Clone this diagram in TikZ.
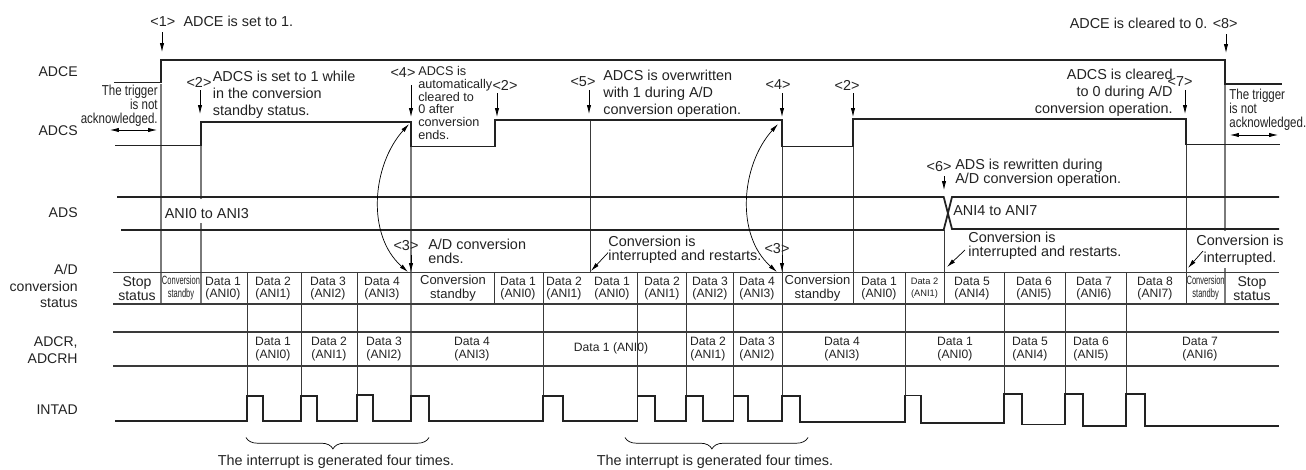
\documentclass[tikz,border=0pt]{standalone}
\usepackage{fontspec}
\setmainfont{Liberation Sans}
\newfontfamily\condfont[FakeStretch=0.8]{Liberation Sans}
\newfontfamily\narrowfont[FakeStretch=0.63]{Liberation Sans}
\usetikzlibrary{arrows.meta,decorations.pathreplacing}
\definecolor{inkdark}{HTML}{222222}
\definecolor{gridgray}{HTML}{7A7A7A}
\definecolor{griddark}{HTML}{3A3A3A}
\tikzset{
  sig/.style={draw=inkdark, line width=1pt, line join=miter},
  rowline/.style={draw=griddark, line width=0.9pt},
  gridl/.style={draw=griddark, line width=0.55pt},
  gridg/.style={draw=gridgray, line width=0.75pt},
  pin/.style={draw=black, line width=0.4pt, -{Latex[length=5pt,width=2.4pt]}},
  pinboth/.style={draw=black, line width=0.4pt, {Latex[length=5pt,width=2.4pt]}-{Latex[length=5pt,width=2.4pt]}},
  note/.style={font=\fontsize{8.2}{9.8}\selectfont, inner sep=0pt, text=inkdark},
  smallnote/.style={font=\fontsize{7.2}{7.3}\selectfont, inner sep=0pt, text=inkdark},
  spacednote/.style={font=\fontsize{8.2}{8}\selectfont, inner sep=0pt, text=inkdark},
  sigpalabel/.style={font=\fontsize{8}{9.5}\selectfont, inner sep=0pt, anchor=east, align=right, text=inkdark},
  cell/.style={font=\fontsize{6.9}{7.2}\selectfont, inner sep=0pt, align=center, text=inkdark},
  cellbig/.style={font=\fontsize{7.4}{7.9}\selectfont, inner sep=0pt, align=center, text=inkdark},
  cellstop/.style={font=\fontsize{8}{8}\selectfont, inner sep=0pt, align=center, text=inkdark},
  cellnarrow/.style={font=\fontsize{6.8}{7.3}\narrowfont, inner sep=0pt, align=center, text=inkdark},
  trignote/.style={font=\fontsize{8.2}{8.1}\condfont, inner sep=0pt, text=inkdark}
}
\begin{document}
\begin{tikzpicture}[x=0.02cm, y=-0.02cm]
\useasboundingbox (0,0) rectangle (1306,470);
% vertical timing lines
\foreach \x/\a/\b in {161/84/304, 201/122/199, 201/223/304, 411/122/396, 1225/84/231, 1225/268/304}
  \draw[gridg] (\x,\a) -- (\x,\b);
\foreach \x/\a/\b in {590/120/272, 782/120/396, 853/119/304, 944/230/304, 1186/119/304,
  247/272/396, 301/272/396, 357/272/396, 494/272/304, 543/272/396, 637.5/272/396, 686/272/396,
  733.5/272/396, 905/272/396, 1004/272/396, 1065/272/396, 1126/272/396}
  \draw[gridl] (\x,\a) -- (\x,\b);
% row lines
\foreach \y in {272.5, 304, 332, 366} \draw[rowline] (113,\y) -- (1279,\y);
\draw[sig] (114,82.5) -| (161,60) -| (1225,83.7) -- (1282,83.7);
\draw[sig] (115,145.5) -| (201,122) -| (411,146.5) -| (495,120) -| (782,146.5) -| (853,119) -| (1186,144.5) -- (1280,144.5);
\draw[sig] (117,197) -- (943.7,197) -- (952,229) -- (1279,229);
\draw[sig] (121,230) -- (943.7,230) -- (952,197) -- (1279,197);
\draw[sig] (115,421) -| (247,396) -| (263,421) -| (301,396) -| (317,421) -| (357,395) -| (373,421) -| (411,396) -| (429,421)
  -| (543,396) -| (563,421) -| (637.5,396) -| (655,421) -| (686,396) -| (703,421) -| (733.5,396) -| (748,421)
  -| (782,396) -| (800,422) -| (905,395.5) -| (921,423) -| (1004,394) -| (1022,424.5) -| (1065,394) -| (1083,426)
  -| (1126,394) -| (1145,426) -- (1279,426);
% row names
\node[sigpalabel] (lADCE) at (78,72) {ADCE};
\node[sigpalabel] (lADCS) at (78,131) {ADCS};
\node[sigpalabel] (lADS) at (78,213) {ADS};
\node[sigpalabel] (lAD) at (78,286) {A/D\\conversion\\status};
\node[sigpalabel] (lADCR) at (78,350) {ADCR,\\ADCRH};
\node[sigpalabel] (lINTAD) at (78,410) {INTAD};
% callouts
\node[note, anchor=west] (n1) at (150,21) {<1>\hspace{0.3em} ADCE is set to 1.};
\node[note, anchor=east] (n8) at (1238,23) {ADCE is cleared to 0. <8>};
\node[note, anchor=center] (n2a) at (199,82) {<2>};
\node[note, anchor=west, align=left] (t2) at (212.5,94.5) {ADCS is set to 1 while\\in the conversion\\standby status.};
\node[note] (n4a) at (403,73) {<4>};
\node[smallnote, anchor=west, align=left] (t4) at (418,103) {ADCS is\\automatically\\cleared to\\0 after\\conversion\\ends.};
\node[note] (n2b) at (505,85) {<2>};
\node[note] (n5) at (583,82) {<5>};
\node[note, anchor=west, align=left] (t5) at (603,93.5) {ADCS is overwritten\\with 1 during A/D\\conversion operation.};
\node[note] (n4b) at (778,85) {<4>};
\node[note] (n2c) at (847,85) {<2>};
\node[note, anchor=east, align=right] (t7) at (1173,92.5) {ADCS is cleared\\to 0 during A/D\\conversion operation.};
\node[note] (n7) at (1180,82) {<7>};
\node[note] (n6) at (939,167) {<6>};
\node[spacednote, anchor=west, align=left] (t6) at (955,173) {ADS is rewritten during\\A/D conversion operation.};
\node[trignote, anchor=east, align=right] (trigl) at (158,106) {The trigger\\is not\\acknowledged.};
\node[trignote, anchor=west, align=left] (trigr) at (1229,110) {The trigger\\is not\\acknowledged.};
\node[note, anchor=west] (ani0) at (164.5,214) {ANI0 to ANI3};
\node[note, anchor=west] (ani4) at (953,211) {ANI4 to ANI7};
\node[note] (n3a) at (406,246) {<3>};
\node[spacednote, anchor=west, align=left] (t3) at (428,251) {A/D conversion\\ends.};
\node[note] (n3b) at (777,249) {<3>};
\node[spacednote, anchor=west, align=left] (r1) at (608,250) {Conversion is\\interrupted and restarts.};
\node[spacednote, anchor=west, align=left] (r2) at (968,246) {Conversion is\\interrupted and restarts.};
\node[note, align=center] (r3) at (1240,250.5) {Conversion is\\interrupted.};
% arrows
\foreach \x/\a/\b in {162/32/52, 1226/34/53, 200/90/114, 411/85/117, 497/93/117, 589/90/114, 782/93/117, 853/93/117, 1185/90/114, 944/176/190, 411/255/272, 782/255/272}
  \draw[pin] (\x,\a) -- (\x,\b);
\draw[pinboth] (110,130) -- (157,130);
\draw[pinboth] (1230,135) -- (1278,135);
\draw[pinboth] (409,124) .. controls (372,165) and (366,235) .. (408,272);
\draw[pinboth] (778,124) .. controls (741,165) and (735,235) .. (777,272);
\draw[pin] (608,252.7) -- (591,271);
\draw[pin] (965,250) -- (947,267);
\draw[pin] (1203,251) -- (1188,268);
% A/D status row
\foreach \x/\d/\a in {223/1/0, 273/2/1, 328/3/2, 382/4/3, 518/1/0, 564/2/1, 612/1/0, 662/2/1, 710/3/2, 757/4/3, 879/1/0, 972/5/4, 1034/6/5, 1094/7/6, 1155/8/7}
  \node[cell] (st\x) at (\x,288.5) {Data \d\\(ANI\a)};
\node[cell, font=\fontsize{5.3}{6.9}\selectfont] (st924) at (924.5,288.5) {Data 2\\(ANI1)};
\foreach \x in {181, 1205.6} \node[cellnarrow] (cs\x) at (\x,288) {Conversion\\standby};
\foreach \x in {453, 817.5} \node[cellbig] (cb\x) at (\x,288) {Conversion\\standby};
\foreach \x in {137, 1252} \node[cellstop] (ss\x) at (\x,289) {Stop\\status};
% ADCR row
\foreach \x/\d/\a in {273/1/0, 329/2/1, 384/3/2, 472/4/3, 708/2/1, 757/3/2, 842/4/3, 955/1/0, 1030/5/4, 1091/6/5, 1200/7/6}
  \node[cell] (cr\x) at (\x,349) {Data \d\\(ANI\a)};
\node[cell] (cr613) at (611,348) {Data 1 (ANI0)};
% interrupt braces
\draw[line width=0.4pt, decorate, decoration={brace, mirror, amplitude=6.5pt, aspect=0.475}] (246,437.5) -- (429,437.5);
\draw[line width=0.4pt, decorate, decoration={brace, mirror, amplitude=6.5pt, aspect=0.475}] (625,437.5) -- (808,437.5);
\node[note] (f1) at (336,462) {The interrupt is generated four times.};
\node[note] (f2) at (715,462) {The interrupt is generated four times.};
\end{tikzpicture}
\end{document}
